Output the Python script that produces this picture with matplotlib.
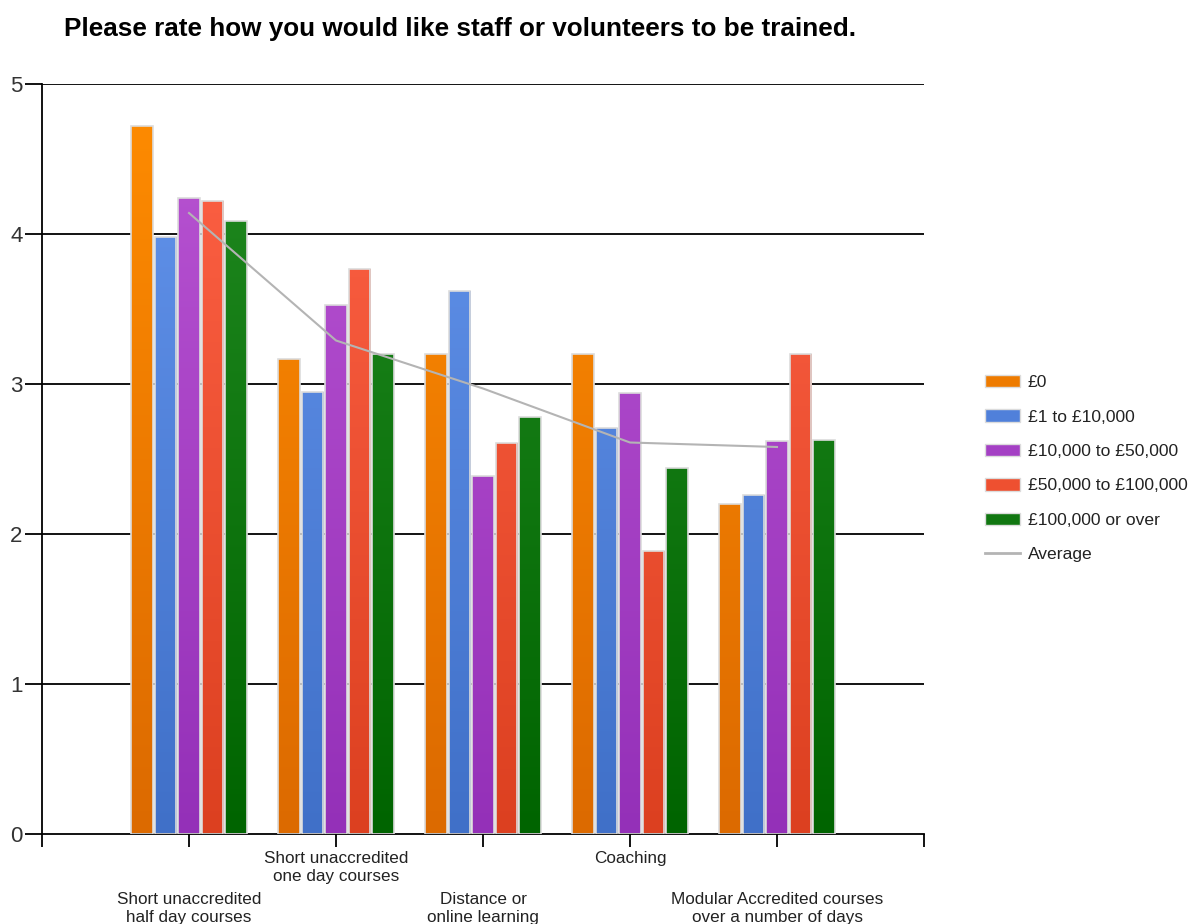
import matplotlib
matplotlib.use("Agg")
import matplotlib.pyplot as plt
import numpy as np
from matplotlib.colors import LinearSegmentedColormap
from matplotlib.patches import Patch
from matplotlib.lines import Line2D

plt.rcParams['font.family'] = ['Liberation Sans', 'DejaVu Sans']

title = "Please rate how you would like staff or volunteers to be trained."
categories = ["Short unaccredited\nhalf day courses",
              "Short unaccredited\none day courses",
              "Distance or\nonline learning",
              "Coaching",
              "Modular Accredited courses\nover a number of days"]
series_names = ["£0", "£1 to £10,000", "£10,000 to £50,000",
                "£50,000 to £100,000", "£100,000 or over"]
v_0 = [4.72, 3.17, 3.20, 3.20, 2.20]
v_1_10k = [3.98, 2.95, 3.62, 2.71, 2.26]
v_10k_50k = [4.24, 3.53, 2.39, 2.94, 2.62]
v_50k_100k = [4.22, 3.77, 2.61, 1.89, 3.20]
v_100k_plus = [4.09, 3.20, 2.78, 2.44, 2.63]
average = [4.14, 3.29, 2.97, 2.61, 2.58]
yticks = [0, 1, 2, 3, 4, 5]

series = [v_0, v_1_10k, v_10k_50k, v_50k_100k, v_100k_plus]
top_colors = ["#FF8C00", "#6495ED", "#BA55D3", "#FF6347", "#228B22"]
bot_colors = ["#DC6A00", "#4070C8", "#9430B8", "#DC4020", "#006400"]
legend_colors = ["#EE7B00", "#5080DA", "#A440C4", "#EE5030", "#117711"]

fig = plt.figure(figsize=(11.94, 9.24), dpi=100)
ax = fig.add_axes([42/1194, 90/924, (924-42)/1194, (834-84)/924])

x = np.arange(1, len(categories) + 1)
slot = 0.16
bw = 0.148
for i, vals in enumerate(series):
    offs = (i - 2) * slot
    bars = ax.bar(x + offs, vals, width=bw, facecolor='none',
                  edgecolor='#dcdcdc', linewidth=1.2, zorder=3)
    cmap = LinearSegmentedColormap.from_list(f"g{i}", [bot_colors[i], top_colors[i]])
    for b in bars:
        x0 = b.get_x()
        w = b.get_width()
        grad = np.linspace(0, 1, 256).reshape(-1, 1)
        im = ax.imshow(grad, extent=[x0, x0 + w, 0, 5], origin='lower',
                       cmap=cmap, aspect='auto', zorder=2, vmin=0, vmax=1)
        im.set_clip_path(b)

ax.plot(x, average, color='#b4b4b4', linewidth=1.5, zorder=4)

for yv in yticks[1:]:
    ax.axhline(yv, color='black', linewidth=1.3, zorder=1)

ax.set_xlim(0, 6)
ax.set_ylim(0, 5)
ax.set_xticks(np.arange(0, 7))
ax.set_xticklabels([])
ax.set_yticks(yticks)
ax.set_yticklabels([str(t) for t in yticks], fontsize=16, color='#333333')
ax.tick_params(axis='y', length=12, width=1.3, pad=2)
ax.tick_params(axis='x', length=9, width=1.3)
for s in ['top', 'right']:
    ax.spines[s].set_visible(False)
for s in ['left', 'bottom']:
    ax.spines[s].set_linewidth(1.3)

trans = ax.get_xaxis_transform()
for i, lab in enumerate(categories):
    ypos = -0.023 if i % 2 == 1 else -0.077
    ax.text(x[i], ypos, lab, transform=trans, ha='center', va='top',
            fontsize=12.3, color='#222222', linespacing=1.25)

fig.text(460/1194, 1 - 29/924, title, ha='center', va='center',
         fontsize=18.8, fontweight='bold', color='black')

handles = [Patch(facecolor=c, edgecolor='#dcdcdc') for c in legend_colors]
handles.append(Line2D([0], [0], color='#b4b4b4', linewidth=2))
leg = fig.legend(handles, series_names + ["Average"], loc='upper left',
                 bbox_to_anchor=(969/1194, 1 - 359/924), frameon=False,
                 fontsize=12.6, handlelength=2.0, handleheight=0.7,
                 labelspacing=1.10, handletextpad=0.45)
for t in leg.get_texts():
    t.set_color('#222222')

fig.savefig("out.png", dpi=100)
